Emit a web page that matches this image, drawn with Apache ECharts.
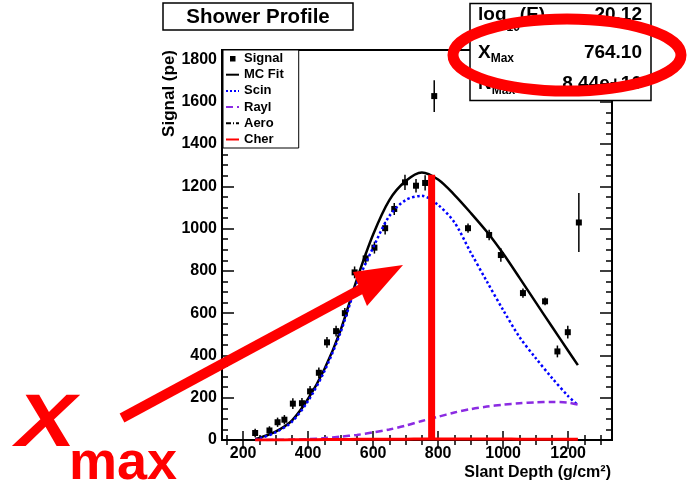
<!DOCTYPE html>
<html>
<head>
<meta charset="utf-8">
<script src="https://cdn.jsdelivr.net/npm/echarts@6/dist/echarts.min.js"></script>
<style>
  html, body { margin: 0; padding: 0; background: #fff; }
  #showerprofile { width: 687px; height: 488px; }
</style>
</head>
<body>
<div id="showerprofile"></div>
<script>
// slant depth grid for the fitted curves (g/cm2)
var depth = [237, 250, 300, 350, 400, 450, 500, 550, 600, 650, 700, 750, 800, 850, 900, 950, 1000, 1050, 1100, 1150, 1200, 1230];
var mcFit = [5, 10, 40, 92, 195, 335, 520, 760, 972, 1135, 1225, 1266, 1232, 1160, 1075, 985, 882, 768, 652, 537, 422, 354];
var scin  = [3, 7, 36, 86, 185, 325, 510, 740, 910, 1060, 1135, 1155, 1112, 1030, 888, 750, 615, 488, 388, 294, 208, 165];
var rayl  = [0, 0, 1, 2, 4, 9, 16, 24, 36, 50, 68, 90, 110, 130, 146, 158, 167, 174, 178, 180, 177, 168];
var aero  = [0, 0, 0, 1, 1, 1, 2, 2, 2, 3, 3, 3, 3, 3, 3, 3, 3, 3, 2, 2, 2, 2];
var cher  = [0, 0, 0, 1, 1, 2, 2, 3, 3, 4, 4, 5, 5, 5, 5, 5, 5, 4, 4, 4, 3, 3];

// measured signal with errors
var sigX   = [237, 281, 306, 327, 353, 381, 406, 433, 458, 486, 513, 543, 577, 604, 637, 665, 698, 732, 760, 788, 892, 957, 993, 1061, 1129, 1167, 1199, 1233];
var sigY   = [33, 45, 84, 96, 172, 174, 230, 318, 462, 515, 600, 793, 859, 910, 1002, 1093, 1219, 1203, 1216, 1627, 1002, 970, 875, 695, 656, 419, 510, 1029];
var sigErr = [20, 20, 22, 22, 25, 25, 25, 25, 25, 25, 25, 28, 28, 28, 30, 28, 36, 32, 36, 75, 22, 25, 32, 22, 18, 28, 30, 140];

// Xmax marker bar
var xmaxBar = [[780, 0], [780, 1255]];

// axis ticks
var xMajorTicks = [200, 400, 600, 800, 1000, 1200];
var xMinorTicks = [150, 250, 300, 350, 450, 500, 550, 650, 700, 750, 850, 900, 950, 1050, 1100, 1150, 1250, 1300];
var yMajorTicks = [0, 200, 400, 600, 800, 1000, 1200, 1400, 1600, 1800];
var yMinorTicks = [50, 100, 150, 250, 300, 350, 450, 500, 550, 650, 700, 750, 850, 900, 950, 1050, 1100, 1150,
                   1250, 1300, 1350, 1450, 1500, 1550, 1650, 1700, 1750];

// stats box
var statLabels = ["{a|log}{s1|10}{a|(E)}", "{a|X}{s2|Max}", "{a|N}{s2|Max}"];
var statValues = ["20.12", "764.10", "8.44e+10"];

var FONT = "Liberation Sans";
var chartDom = document.getElementById("showerprofile");
var myChart = echarts.init(chartDom);

function pairs(xs, ys) {
  return xs.map(function (x, i) { return [x, ys[i]]; });
}
function plain(v) { return String(v); }

function xAxisDef(pos, ticks, len, labels) {
  return {
    type: "value", position: pos, min: 135, max: 1335,
    axisLine: { show: false }, splitLine: { show: false },
    axisTick: { show: true, inside: true, length: len, customValues: ticks,
                lineStyle: { color: "#000", width: 1.5 } },
    axisLabel: labels ? { show: true, customValues: xMajorTicks, margin: 6, color: "#000", formatter: plain,
                          fontFamily: FONT, fontWeight: "bold", fontSize: 16 } : { show: false }
  };
}
function yAxisDef(pos, ticks, len, labels) {
  return {
    type: "value", position: pos, min: 0, max: 1845,
    axisLine: { show: false }, splitLine: { show: false },
    axisTick: { show: true, inside: true, length: len, customValues: ticks,
                lineStyle: { color: "#000", width: 1.5 } },
    axisLabel: labels ? { show: true, customValues: yMajorTicks, margin: 5, color: "#000", formatter: plain,
                          fontFamily: FONT, fontWeight: "bold", fontSize: 16 } : { show: false }
  };
}

var statText = [];
statLabels.forEach(function (lab, i) {
  var ys = [15, 52.5, 84];
  statText.push({
    type: "text", x: 478, y: ys[i], z: 101,
    style: {
      text: lab, align: "left", verticalAlign: "middle", fill: "#000",
      rich: {
        a: { fontFamily: FONT, fontWeight: "bold", fontSize: 19, fill: "#000" },
        s1: { fontFamily: FONT, fontWeight: "bold", fontSize: 12, fill: "#000", padding: [25, 0, 0, 0] },
        s2: { fontFamily: FONT, fontWeight: "bold", fontSize: 12, fill: "#000", padding: [13, 0, 0, 0] }
      }
    }
  });
  statText.push({
    type: "text", x: 642, y: ys[i], z: 101,
    style: { text: statValues[i], align: "right", verticalAlign: "middle", fill: "#000",
             font: "bold 19px " + FONT }
  });
});

var option = {
  animation: false,
  backgroundColor: "#fff",
  textStyle: { fontFamily: FONT },
  grid: { left: 222, right: 75, top: 50, bottom: 48, show: true, borderColor: "#000",
          borderWidth: 2, backgroundColor: "transparent", outerBoundsMode: "none" },
  legend: {
    left: 223, top: 50, orient: "vertical",
    itemWidth: 13, itemHeight: 8, itemGap: 3.2,
    padding: [2, 15, 2, 2],
    backgroundColor: "#fff", borderColor: "#000", borderWidth: 1, borderRadius: 0,
    itemStyle: { color: "rgba(0,0,0,0)", borderColor: "rgba(0,0,0,0)", borderWidth: 0 },
    textStyle: { fontFamily: FONT, fontWeight: "bold", fontSize: 13, color: "#000" },
    data: [
      { name: "Signal", icon: "path://M0,0 M13,8 M4,1.5 L9.5,1.5 L9.5,7 L4,7 Z", itemStyle: { color: "#000" } },
      "MC Fit", "Scin", "Rayl", "Aero", "Cher"
    ]
  },
  xAxis: [
    xAxisDef("bottom", xMajorTicks, 9, true),
    xAxisDef("bottom", xMinorTicks, 5, false),
    xAxisDef("top", xMajorTicks, 9, false),
    xAxisDef("top", xMinorTicks, 5, false)
  ],
  yAxis: [
    yAxisDef("left", yMajorTicks, 12, true),
    yAxisDef("left", yMinorTicks, 6, false),
    yAxisDef("right", yMajorTicks, 12, false),
    yAxisDef("right", yMinorTicks, 6, false)
  ],
  series: [
    {
      name: "Signal", type: "custom", xAxisIndex: 0, yAxisIndex: 0,
      itemStyle: { color: "#000" },
      encode: { x: 0, y: 1 },
      data: sigX.map(function (x, i) { return [x, sigY[i], sigErr[i]]; }),
      renderItem: function (params, api) {
        var x = api.value(0), y = api.value(1), e = api.value(2);
        var c = api.coord([x, y]);
        var lo = api.coord([x, y - e]);
        var hi = api.coord([x, y + e]);
        return {
          type: "group",
          children: [
            { type: "line", shape: { x1: c[0], y1: lo[1], x2: c[0], y2: hi[1] },
              style: { stroke: "#000", lineWidth: 1.5 } },
            { type: "rect", shape: { x: c[0] - 3, y: c[1] - 3, width: 6, height: 6 },
              style: { fill: "#000" } }
          ]
        };
      }
    },
    { name: "MC Fit", type: "line", data: pairs(depth, mcFit), symbol: "none", smooth: 0.3,
      lineStyle: { color: "#000", width: 2.5 }, itemStyle: { color: "#000" } },
    { name: "Scin", type: "line", data: pairs(depth, scin), symbol: "none", smooth: 0.3,
      lineStyle: { color: "#0000ff", width: 2.5, type: "dotted" }, itemStyle: { color: "#0000ff" } },
    { name: "Rayl", type: "line", data: pairs(depth, rayl), symbol: "none", smooth: 0.3,
      lineStyle: { color: "#8b2be2", width: 2.5, type: [7, 4] }, itemStyle: { color: "#8b2be2" } },
    { name: "Aero", type: "line", data: pairs(depth, aero), symbol: "none", smooth: 0.3,
      lineStyle: { color: "#000", width: 1.5, type: [5, 2, 1, 2] }, itemStyle: { color: "#000" } },
    { name: "Cher", type: "line", data: pairs(depth, cher), symbol: "none", smooth: 0.3,
      lineStyle: { color: "#ff0000", width: 3 }, itemStyle: { color: "#ff0000" } },
    { name: "Xmax", type: "line", data: xmaxBar, symbol: "none", z: 5,
      lineStyle: { color: "#ff0000", width: 7 }, itemStyle: { color: "#ff0000" } }
  ],
  graphic: [
    // title box
    { type: "rect", z: 100, shape: { x: 163, y: 3, width: 190, height: 27 },
      style: { fill: "#fff", stroke: "#000", lineWidth: 1.5 } },
    { type: "text", z: 101, x: 258, y: 17,
      style: { text: "Shower Profile", align: "center", verticalAlign: "middle",
               font: "bold 20.5px " + FONT, fill: "#000" } },
    // stats box
    { type: "rect", z: 100, shape: { x: 470, y: 3.5, width: 181, height: 97 },
      style: { fill: "#fff", stroke: "#000", lineWidth: 1.5 } }
  ].concat(statText).concat([
    // axis titles
    { type: "text", z: 101, x: 169, y: 50, rotation: Math.PI / 2,
      style: { text: "Signal (pe)", align: "right", verticalAlign: "middle",
               font: "bold 17px " + FONT, fill: "#000" } },
    { type: "text", z: 101, x: 611, y: 473,
      style: { text: "Slant Depth (g/cm²)", align: "right", verticalAlign: "middle",
               font: "bold 16px " + FONT, fill: "#000" } },
    // annotations
    { type: "ellipse", z: 110, shape: { cx: 567, cy: 55, rx: 114, ry: 36 },
      style: { fill: null, stroke: "#ff0000", lineWidth: 11 } },
    { type: "line", z: 110, shape: { x1: 122, y1: 418, x2: 365, y2: 287 },
      style: { stroke: "#ff0000", lineWidth: 10 } },
    { type: "polygon", z: 110, shape: { points: [[403, 265], [353, 272], [367, 306]] },
      style: { fill: "#ff0000" } },
    { type: "text", z: 110, x: 16, y: 426, scaleX: 1.12, scaleY: 0.92,
      style: { text: "X", align: "left", verticalAlign: "middle",
               font: "italic bold 80px " + FONT, fill: "#ff0000" } },
    { type: "text", z: 110, x: 69, y: 464,
      style: { text: "max", align: "left", verticalAlign: "middle",
               font: "bold 54px " + FONT, fill: "#ff0000" } }
  ])
};

option && myChart.setOption(option);
</script>
</body>
</html>
